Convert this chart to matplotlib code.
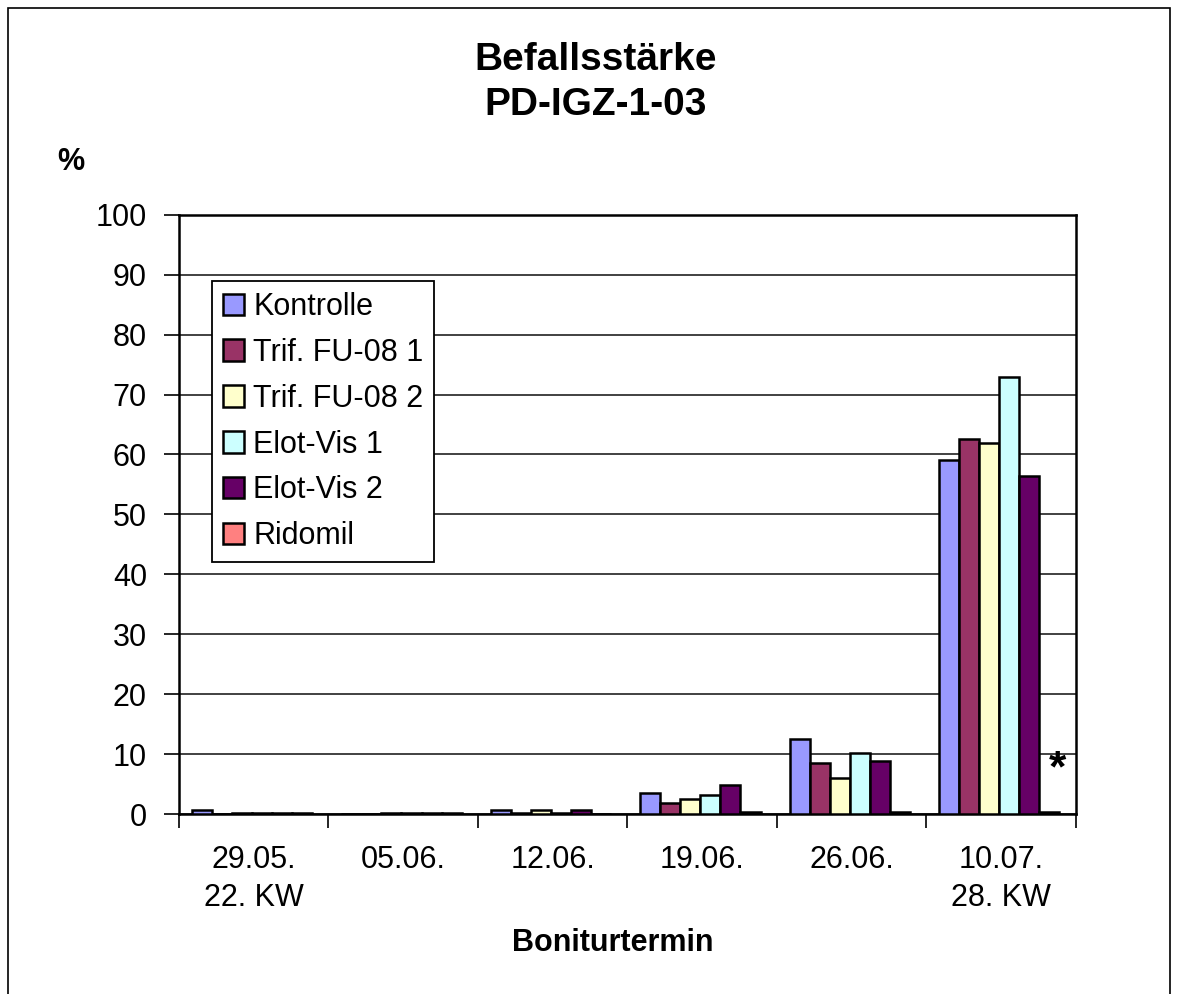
import matplotlib
matplotlib.use("Agg")
import matplotlib.pyplot as plt
import numpy as np
from matplotlib.patches import Rectangle

plt.rcParams['font.family'] = ['Liberation Sans', 'DejaVu Sans']

termine = ["29.05.\n22. KW", "05.06.", "12.06.", "19.06.", "26.06.", "10.07.\n28. KW"]
kontrolle = [0.6, 0.0, 0.6, 3.5, 12.5, 59.0]
trif_1 = [0.0, 0.0, 0.2, 1.9, 8.6, 62.5]
trif_2 = [0.2, 0.2, 0.6, 2.5, 6.0, 61.9]
elot_1 = [0.2, 0.2, 0.2, 3.2, 10.2, 72.9]
elot_2 = [0.2, 0.2, 0.6, 4.8, 8.9, 56.4]
ridomil = [0.2, 0.2, 0.0, 0.3, 0.3, 0.3]

serien = [kontrolle, trif_1, trif_2, elot_1, elot_2, ridomil]
namen = ["Kontrolle", "Trif. FU-08 1", "Trif. FU-08 2", "Elot-Vis 1", "Elot-Vis 2", "Ridomil"]
farben = ["#9999FF", "#993366", "#FFFFCC", "#CCFFFF", "#660066", "#FF8080"]

fig = plt.figure(figsize=(11.77, 9.94), dpi=100)
ax = fig.add_axes([0.152, 0.181, 0.762, 0.603])

x = np.arange(len(termine))
breite = 0.134
for i, (werte, name, farbe) in enumerate(zip(serien, namen, farben)):
    ax.bar(x - 0.5 + 0.087 + breite * (i + 0.5), werte, breite, color=farbe,
           edgecolor="black", linewidth=1.8, label=name, zorder=3)

ax.set_xlim(-0.5, 5.5)
ax.set_ylim(0, 100)
ax.set_yticks(np.arange(0, 101, 10))
ax.set_xticks(x)
ax.set_xticklabels(termine, linespacing=1.36)
ax.set_xticks(np.arange(-0.5, 6, 1), minor=True)
ax.tick_params(axis="x", which="major", length=0, labelsize=22, pad=22)
ax.tick_params(axis="x", which="minor", length=10, width=1.2, direction="out")
ax.tick_params(axis="y", length=11, width=1.2, direction="out", labelsize=22, pad=12)
ax.grid(axis="y", color="#333333", linewidth=1.3, zorder=0)
for s in ax.spines.values():
    s.set_linewidth(1.8)

ax.set_xlabel("Boniturtermin", fontsize=22, fontweight="bold")
ax.xaxis.set_label_coords(0.484, -0.19)
fig.text(0.06, 0.837, "%", fontsize=22, fontweight="bold", ha="center", va="center")
fig.text(0.506, 0.917, "Befallsstärke\nPD-IGZ-1-03", fontsize=28, fontweight="bold",
         ha="center", va="center", linespacing=1.3)
ax.text(5.38, 7.3, "*", fontsize=32, fontweight="bold", ha="center", va="center")

leg = ax.legend(loc="upper left", bbox_to_anchor=(0.037, 0.889), fontsize=22,
                frameon=True, fancybox=False, edgecolor="black", framealpha=1,
                handlelength=0.7, handleheight=0.7, handletextpad=0.3,
                labelspacing=0.52, borderpad=0.35, borderaxespad=0)
leg.get_frame().set_linewidth(1.3)

fig.patches.append(Rectangle((0.007, -0.1), 0.987, 1.092, transform=fig.transFigure,
                             fill=False, edgecolor="black", linewidth=1.2))

fig.savefig("out.png", dpi=100)
